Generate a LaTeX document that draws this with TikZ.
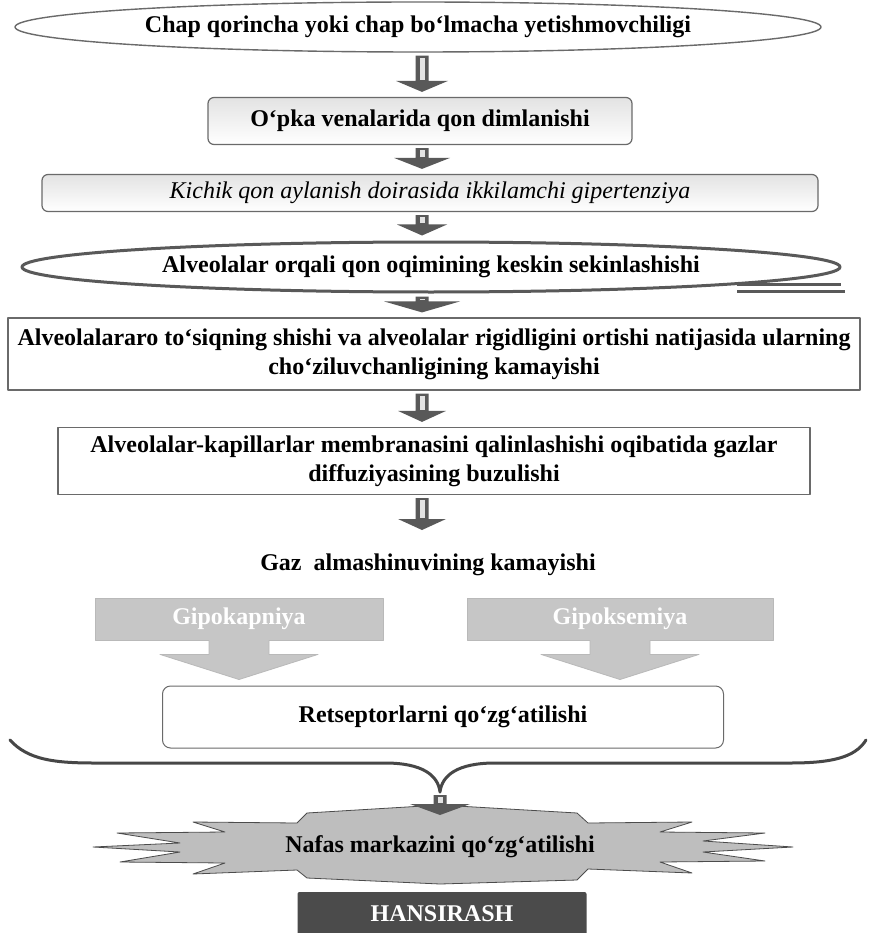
\documentclass[tikz,border=0pt]{standalone}
\usepackage{fontspec}
\setmainfont{Liberation Serif}
\usetikzlibrary{shapes.geometric,calc}

\definecolor{arrowgray}{HTML}{595959}
\definecolor{linegray}{HTML}{6A6A6A}
\definecolor{callgray}{HTML}{C6C6C6}
\definecolor{burstgray}{HTML}{BEBEBE}
\definecolor{darkbox}{HTML}{4B4B4B}

\newcommand{\fsz}{\fontsize{24}{29}\selectfont}

% block arrow from #2 down to #3, #1 = half width of the head
\newcommand{\flowarrow}[3][26pt]{%
  \fill[arrowgray] let \p1=(#2), \p2=(#3) in
    (\x1-6.5pt,\y1-3pt) -- (\x1+6.5pt,\y1-3pt) -- (\x1+6.5pt,\y2+16pt)
    -- (\x1+#1,\y2+16pt) -- (\x1,\y2+5pt) -- (\x1-#1,\y2+16pt)
    -- (\x1-6.5pt,\y2+16pt) -- cycle;
  \fill[gray!22] let \p1=(#2), \p2=(#3) in
    (\x1-2.5pt,\y1-5pt) rectangle (\x1+2.5pt,\y2+17pt);}

% wide gray arrow hanging under a label box
\newcommand{\callarrow}[2]{%
  \fill[callgray] let \p1=(#1.south), \p2=(#2.north) in
    (\x1-30pt,\y1+1pt) -- (\x1-30pt,\y1-14pt) -- (\x1-79pt,\y1-14pt)
    -- (\x1,\y2+6pt) -- (\x1+79pt,\y1-14pt) -- (\x1+30pt,\y1-14pt)
    -- (\x1+30pt,\y1+1pt) -- cycle;
  \draw[gray!55,line width=0.8pt] let \p1=(#1.south), \p2=(#2.north) in
    (\x1-30pt,\y1) -- (\x1-30pt,\y1-14pt) -- (\x1-79pt,\y1-14pt)
    -- (\x1,\y2+6pt) -- (\x1+79pt,\y1-14pt) -- (\x1+30pt,\y1-14pt)
    -- (\x1+30pt,\y1);}

\tikzset{
  oval/.style={ellipse,draw=linegray,line width=1.4pt,fill=white,inner sep=0pt},
  roundbox/.style={rectangle,rounded corners=6pt,draw=linegray,line width=1.2pt,
    top color=gray!22,bottom color=white,inner sep=0pt},
  plainbox/.style={rectangle,draw=linegray,line width=1.2pt,fill=white,
    inner sep=0pt,align=center},
  callbox/.style={rectangle,fill=callgray,draw=gray!55,line width=0.8pt,
    text=white,inner sep=0pt},
}

\begin{document}
\begin{tikzpicture}[x=1pt,y=-1pt,font=\bfseries\fsz,line join=round]
\useasboundingbox (0,0) rectangle (873,933);
\fill[white] (0,0) rectangle (873,933);
\coordinate (axis) at (422,0);

% upper chain
\node[oval,minimum width=806pt,minimum height=50pt] (chap) at (418,27)
  {Chap qorincha yoki chap bo‘lmacha yetishmovchiligi};
\node[roundbox,minimum width=424pt,minimum height=47pt] (opka) at (420,121)
  {O‘pka venalarida qon dimlanishi};
\node[roundbox,minimum width=776pt,minimum height=37pt,font=\mdseries\itshape\fsz] (kichik) at (430,193)
  {Kichik qon aylanish doirasida ikkilamchi gipertenziya};
\node[oval,draw=arrowgray,line width=3pt,minimum width=818pt,minimum height=50pt] (alveo) at (431,267)
  {Alveolalar orqali qon oqimining keskin sekinlashishi};
\draw[arrowgray,line width=3pt] (737,284) -- (841,284);
\draw[arrowgray,line width=3pt] (737,291) -- (845,291);
\node[plainbox,minimum width=852pt,minimum height=72pt] (tosiq) at (434,354)
  {Alveolalararo to‘siqning shishi va alveolalar rigidligini ortishi natijasida ularning\\
   cho‘ziluvchanligining kamayishi};
\node[plainbox,minimum width=752pt,minimum height=67pt] (membr) at (434,461)
  {Alveolalar-kapillarlar membranasini qalinlashishi oqibatida gazlar\\
   diffuziyasining buzulishi};
\coordinate (gazin) at (422,535);
\node (gaz) at (428,565) {Gaz\ \ almashinuvining kamayishi};

\flowarrow{chap.south -| axis}{opka.north -| axis}
\flowarrow[28pt]{opka.south -| axis}{kichik.north -| axis}
\flowarrow[25pt]{kichik.south -| axis}{alveo.north -| axis}
\flowarrow[38pt]{alveo.south -| axis}{tosiq.north -| axis}
\flowarrow[24pt]{tosiq.south -| axis}{membr.north -| axis}
\flowarrow[24pt]{membr.south -| axis}{gazin}

% gas exchange branches
\node[callbox,minimum width=288pt,minimum height=42pt] (kapniya) at (239,619) {Gipokapniya};
\node[callbox,minimum width=306pt,minimum height=42pt] (oksemiya) at (620,619) {Gipoksemiya};
\node[rectangle,rounded corners=8pt,draw=linegray,line width=1pt,fill=white,
  minimum width=561pt,minimum height=62pt] (recep) at (443,717) {Retseptorlarni qo‘zg‘atilishi};
\callarrow{kapniya}{recep}
\callarrow{oksemiya}{recep}

% brace
\coordinate (bracetip) at (440,792);
\draw[arrowgray!80!black,line width=3pt,line cap=round]
  (10,740) .. controls (28,760) and (55,763) .. (95,763) -- (385,763)
  .. controls (422,763) and (438,775) .. (bracetip)
  .. controls (442,775) and (458,763) .. (495,763) -- (790,763)
  .. controls (830,763) and (855,758) .. (866,740);

% respiratory centre
\filldraw[fill=burstgray,draw=gray!60!black,line width=0.8pt]
  (307,813) -- (297,823) -- (193,822) -- (225,832) -- (117,833) -- (180,843)
  -- (93,847) -- (180,852) -- (120,862) -- (225,863) -- (193,874) -- (297,870)
  -- (307,878) -- (440,884) -- (577,880) -- (588,869) -- (692,873) -- (660,862)
  -- (765,861) -- (703,852) -- (793,847) -- (703,841) -- (765,833) -- (660,832)
  -- (692,822) -- (588,823) -- (577,813) -- (440,805) -- cycle;
\node (nafas) at (440,847) {Nafas markazini qo‘zg‘atilishi};
\coordinate (nafastop) at (440,820);
\flowarrow[30pt]{bracetip}{nafastop}

\node[rectangle,rounded corners=2pt,fill=darkbox,text=white,
  minimum width=289pt,minimum height=44pt] (hansirash) at (442,914) {HANSIRASH};
\end{tikzpicture}
\end{document}
